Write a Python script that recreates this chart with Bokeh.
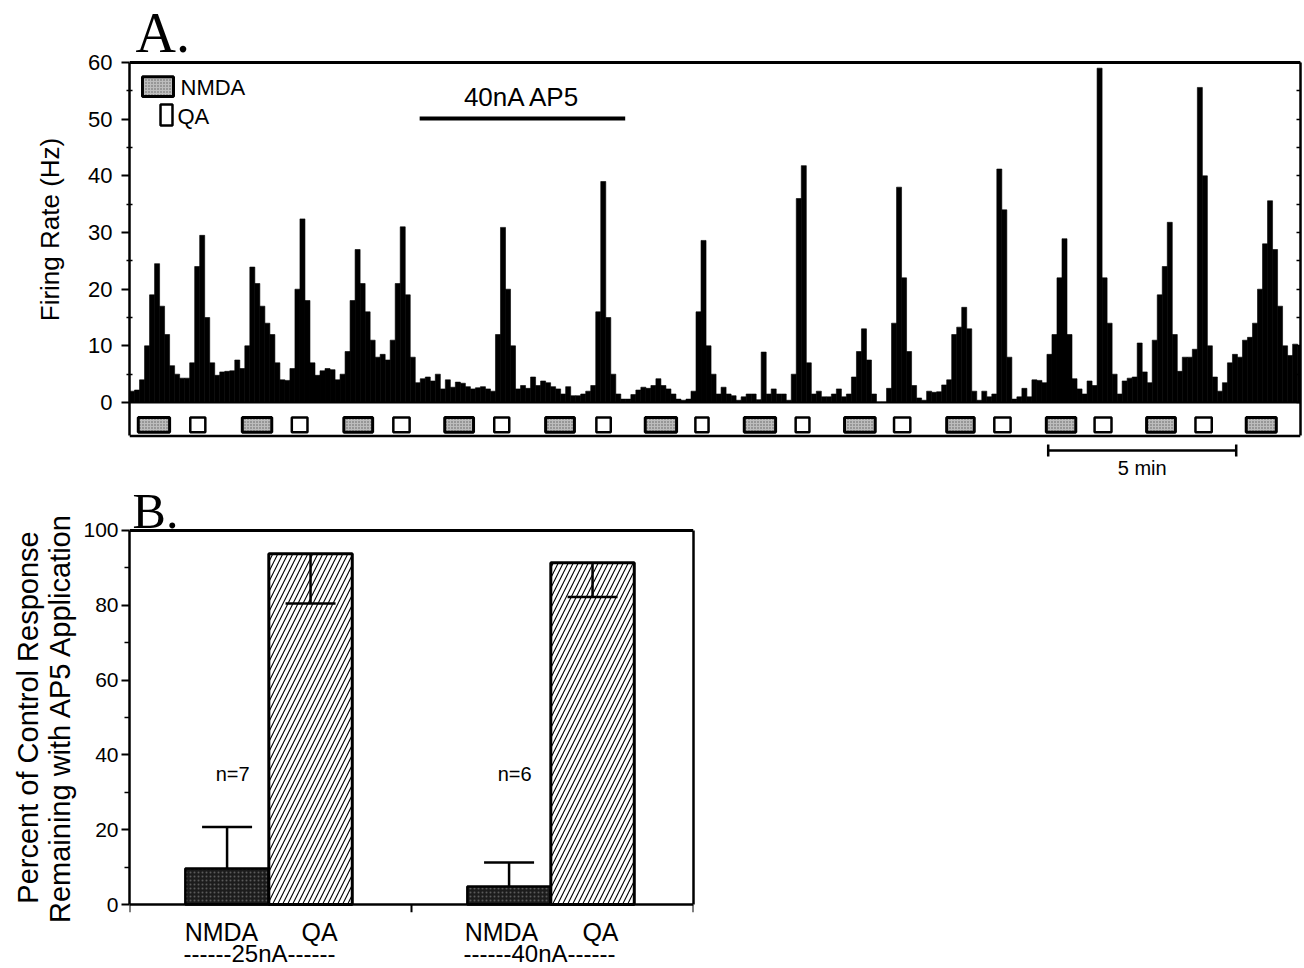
import numpy as np
from bokeh.plotting import figure
from bokeh.models import (Range1d, LinearAxis, FixedTicker, Span, ColumnDataSource,
                          Whisker, TeeHead)
from bokeh.layouts import column
from bokeh.embed import file_html
from bokeh.resources import INLINE
from bokeh.core.properties import value

# ---------------- Panel A data ----------------
BIN_S = 8  # histogram bin width (s)
firing_rate_hz = [
    2.0, 2.2, 4.0, 10, 19, 24.5, 17, 12, 6.5, 5, 4.3, 4.3, 7, 24, 29.5, 15, 7, 4.8, 5.4, 5.5,
    5.6, 7.5, 6, 10, 23.9, 21, 17, 14, 12, 7, 4, 3.9, 6, 20, 32.4, 18, 7, 4.8, 5.6,
    6, 5.8, 4, 5, 9, 18, 27, 21, 16, 11, 8, 8.5, 7.5, 11, 21, 31, 19, 8, 3.5, 4.2,
    4.5, 3.8, 5, 2.4, 4, 2.7, 3.6, 3.4, 2.8, 2.4, 2.6, 2.8, 2.4, 2.0, 12, 30.9, 20, 10,
    2.4, 3, 2.5, 4.5, 3, 3.8, 3.5, 2.8, 2.4, 1.5, 2.8, 1.2, 1.2, 1.5, 2, 3, 16, 39, 15, 5,
    1.5, 0.6, 0.6, 1.4, 2.2, 2.7, 2.5, 3, 4.2, 3, 2.4, 1.5, 0.6, 0.4, 0.6, 2, 16, 28.6, 10,
    5, 1.5, 2.7, 1.5, 1.2, 0.4, 1, 1.5, 1.5, 0.5, 8.9, 1.5, 2.4, 1.5, 1.5, 0.4, 5, 36, 41.8, 7,
    1.5, 2, 1, 1, 1.5, 2.4, 1, 1.5, 4.5, 9, 13, 7.5, 1.5, 0.1, 0.1, 2.5, 14, 38, 22,
    9, 3, 0.8, 0.4, 2, 1.8, 1.9, 3.1, 4, 12, 13.3, 16.8, 13, 2, 0.4, 2, 1, 1.5, 41.2, 34,
    8, 0.6, 1, 2.5, 1, 4, 3.9, 3.5, 8.5, 12, 22, 28.9, 12, 4.2, 2.4, 1.5, 3.8, 3, 59,
    22, 14, 5, 1.5, 3.8, 4.3, 4.5, 10.5, 5.4, 3.5, 11, 19, 24, 31.8, 12, 5.5, 8, 8, 9.4, 55.6,
    40, 10, 4.5, 2, 3.5, 7, 8.5, 8, 11, 11.5, 14, 20, 28, 35.6, 27, 17, 10, 8.3, 10.3, 10,
]
nmda_start_s = [14, 180, 342, 503, 664, 823, 981, 1141, 1304, 1463, 1623, 1782]
nmda_end_s = [64, 227, 388, 549, 710, 873, 1031, 1190, 1348, 1510, 1669, 1830]
qa_start_s = [97, 259, 421, 582, 745, 903, 1063, 1220, 1380, 1540, 1701]
qa_end_s = [121, 284, 447, 606, 768, 924, 1085, 1246, 1406, 1567, 1727]
ap5_start_s, ap5_end_s = 463, 791
ap5_label = "40nA AP5"
scale_start_s, scale_len_s = 1466, 300
scale_label = "5 min"
ya_ticks = [0, 10, 20, 30, 40, 50, 60]
ya_minor = [5, 15, 25, 35, 45, 55]

# ---------------- Panel B data ----------------
groups = ["------25nA------", "------40nA------"]
bar_names = ["NMDA", "QA"]
nmda_pct = [9.6, 4.8]
nmda_err = [11.1, 6.4]
qa_pct = [93.8, 91.4]
qa_err = [13.3, 9.2]
n_labels = ["n=7", "n=6"]
yb_ticks = [0, 20, 40, 60, 80, 100]
yb_minor = [10, 30, 50, 70, 90]

SANS = "Liberation Sans"
SERIF = "Liberation Serif"
INK = "black"

# =============== Panel A ===============
T_END = 1868.6
pA = figure(frame_width=1171, frame_height=458, x_range=Range1d(0, T_END),
            y_range=Range1d(-9.88, 70.94), x_axis_type=None, y_axis_type=None,
            min_border_left=126, min_border_right=7, min_border_top=0, min_border_bottom=24,
            output_backend="svg", toolbar_location=None)
pA.outline_line_color = None
pA.background_fill_color = "white"
pA.border_fill_color = "white"

FRAME_BOTTOM = -5.9
ya = LinearAxis(bounds=(FRAME_BOTTOM, 60),
                ticker=FixedTicker(ticks=ya_ticks, minor_ticks=ya_minor),
                axis_label="Firing Rate (Hz)")
ya.axis_line_width = 2.5
ya.axis_line_color = INK
ya.major_tick_out = 8
ya.major_tick_in = 0
ya.major_tick_line_width = 2
ya.major_tick_line_color = INK
ya.minor_tick_out = 3
ya.minor_tick_in = 3
ya.minor_tick_line_width = 1.5
ya.minor_tick_line_color = INK
ya.major_label_text_font = SANS
ya.major_label_text_font_size = "22px"
ya.major_label_text_color = INK
ya.major_label_standoff = 9
ya.axis_label_text_font = SANS
ya.axis_label_text_font_size = "26px"
ya.axis_label_text_font_style = "normal"
ya.axis_label_text_color = INK
ya.axis_label_standoff = 20
pA.add_layout(ya, "left")

yr = LinearAxis(bounds=(FRAME_BOTTOM, 60), ticker=FixedTicker(ticks=list(range(0, 61, 5))))
yr.axis_line_width = 2.5
yr.axis_line_color = INK
yr.major_tick_in = 4
yr.major_tick_out = 0
yr.major_tick_line_width = 1.5
yr.major_tick_line_color = INK
yr.major_label_text_color = None
yr.major_label_text_font_size = "1px"
yr.major_label_standoff = 0
pA.add_layout(yr, "right")

scale_mid = scale_start_s + scale_len_s / 2
xb = LinearAxis(ticker=FixedTicker(ticks=[scale_mid]),
                major_label_overrides={scale_mid: scale_label})
xb.axis_line_color = None
xb.major_tick_line_color = None
xb.minor_tick_line_color = None
xb.major_tick_out = 0
xb.major_tick_in = 0
xb.minor_tick_out = 0
xb.major_label_text_font = SANS
xb.major_label_text_font_size = "20px"
xb.major_label_text_color = INK
xb.major_label_standoff = -2
pA.add_layout(xb, "below")

# frame lines
pA.add_layout(Span(location=60, dimension="width", line_color=INK, line_width=3))
pA.add_layout(Span(location=FRAME_BOTTOM, dimension="width", line_color=INK, line_width=2.5))
pA.add_layout(Span(location=0, dimension="width", line_color=INK, line_width=2))

# histogram
centers = np.arange(len(firing_rate_hz)) * BIN_S + BIN_S / 2
pA.vbar(x=centers, top=firing_rate_hz, bottom=0, width=BIN_S,
        fill_color=INK, line_color=INK, line_width=0.6)

# stimulus boxes
STIM_TOP, STIM_BOT = -2.65, -5.25
pA.quad(left=nmda_start_s, right=nmda_end_s, bottom=STIM_BOT, top=STIM_TOP,
        fill_color="#bdbdbd", hatch_pattern=".", hatch_color="#5e5e5e", hatch_scale=3,
        line_color=INK, line_width=3)
pA.quad(left=qa_start_s, right=qa_end_s, bottom=STIM_BOT, top=STIM_TOP,
        fill_color="white", line_color=INK, line_width=2.5)

# legend (drawn)
pA.quad(left=[20.7], right=[70.2], bottom=[54.0], top=[57.5],
        fill_color="#bdbdbd", hatch_pattern=".", hatch_color="#5e5e5e", hatch_scale=3,
        line_color=INK, line_width=3)
pA.quad(left=[49.5], right=[68.6], bottom=[48.9], top=[52.6],
        fill_color="white", line_color=INK, line_width=2.5)
pA.text(x=[81.4, 76.6], y=[55.5, 50.5], text=["NMDA", "QA"],
        text_font=value(SANS), text_font_size="22px", text_align="left",
        text_baseline="middle", text_color=INK)

# AP5 application bar
pA.line(x=[ap5_start_s, ap5_end_s], y=[50.1, 50.1], line_color=INK, line_width=4)
pA.text(x=[(ap5_start_s + ap5_end_s) / 2], y=[53.9], text=[ap5_label],
        text_font=value(SANS), text_font_size="26px", text_align="center",
        text_baseline="middle", text_color=INK)

# scale bar
sb = ColumnDataSource(dict(base=[-8.47], lower=[scale_start_s], upper=[scale_start_s + scale_len_s]))
pA.add_layout(Whisker(source=sb, base="base", lower="lower", upper="upper", dimension="width",
                      line_color=INK, line_width=2.5, level="annotation",
                      lower_head=TeeHead(size=12, line_width=2.5),
                      upper_head=TeeHead(size=12, line_width=2.5)))

# panel letter
pA.text(x=[9.6], y=[65.28], text=["A."], text_font=value(SERIF), text_font_size="56px",
        text_align="left", text_baseline="middle", text_color=INK)

# =============== Panel B ===============
B_TOP, B_BOT = 112.83, -12.83
pB = figure(frame_width=564, frame_height=470, x_range=Range1d(0, 2), y_range=Range1d(B_BOT, B_TOP),
            x_axis_type=None, y_axis_type=None,
            min_border_left=129, min_border_top=0, min_border_right=10, min_border_bottom=0,
            output_backend="svg", toolbar_location=None)
pB.outline_line_color = None
pB.background_fill_color = "white"
pB.border_fill_color = "white"

yb = LinearAxis(bounds=(0, 100), ticker=FixedTicker(ticks=yb_ticks, minor_ticks=yb_minor),
                axis_label="Percent of Control Response\nRemaining with AP5 Application")
yb.axis_line_width = 2.5
yb.axis_line_color = INK
yb.major_tick_out = 8
yb.major_tick_in = 0
yb.major_tick_line_width = 2
yb.major_tick_line_color = INK
yb.minor_tick_out = 5
yb.minor_tick_in = 0
yb.minor_tick_line_width = 1.5
yb.minor_tick_line_color = INK
yb.major_label_text_font = SANS
yb.major_label_text_font_size = "21px"
yb.major_label_text_color = INK
yb.major_label_standoff = 3
yb.axis_label_text_font = SANS
yb.axis_label_text_font_size = "29px"
yb.axis_label_text_font_style = "normal"
yb.axis_label_text_color = INK
yb.axis_label_text_line_height = 1.0
yb.axis_label_standoff = 4
pB.add_layout(yb, "left")

ybr = LinearAxis(bounds=(0, 100), ticker=FixedTicker(ticks=[]))
ybr.axis_line_width = 2.5
ybr.axis_line_color = INK
ybr.major_tick_out = 0
ybr.major_tick_in = 0
ybr.minor_tick_out = 0
ybr.major_label_text_color = None
ybr.major_label_text_font_size = "1px"
ybr.major_label_standoff = 0
pB.add_layout(ybr, "right")

# frame top and baseline
pB.add_layout(Span(location=100, dimension="width", line_color=INK, line_width=3))
pB.add_layout(Span(location=0, dimension="width", line_color=INK, line_width=2.5))

# bottom ticks at the group boundaries
group_edges = [0, 1, 2]
pB.segment(x0=group_edges, x1=group_edges, y0=0, y1=-2.1, line_color=INK, line_width=2)

NMDA_OFF, QA_OFF, BAR_W = 0.346, 0.642, 0.296
g_idx = np.arange(len(groups))
x_nmda = g_idx + NMDA_OFF
x_qa = g_idx + QA_OFF

pB.vbar(x=x_nmda, top=nmda_pct, width=BAR_W, fill_color="#1c1c1c",
        hatch_pattern=".", hatch_color="#5a5a5a", hatch_scale=4,
        line_color=INK, line_width=2.5)
pB.vbar(x=x_qa, top=qa_pct, width=BAR_W, fill_color="white",
        hatch_pattern="/", hatch_color=INK, hatch_scale=10, hatch_weight=1.1,
        line_color=INK, line_width=3)

src_n = ColumnDataSource(dict(x=x_nmda, lo=nmda_pct, hi=np.array(nmda_pct) + np.array(nmda_err)))
pB.add_layout(Whisker(source=src_n, base="x", lower="lo", upper="hi", line_width=2.5,
                      line_color=INK, level="annotation",
                      lower_head=None, upper_head=TeeHead(size=50, line_width=2.5)))
src_q = ColumnDataSource(dict(x=x_qa, lo=np.array(qa_pct) - np.array(qa_err), hi=qa_pct))
pB.add_layout(Whisker(source=src_q, base="x", lower="lo", upper="hi", line_width=2.5,
                      line_color=INK, level="annotation",
                      upper_head=None, lower_head=TeeHead(size=50, line_width=2.5)))

pB.text(x=x_nmda + 0.02, y=[35.0, 35.0], text=n_labels, text_font=value(SANS),
        text_font_size="20px", text_align="center", text_baseline="middle", text_color=INK)

# bar-name labels under each bar
lab_pos = [0.326, 0.674, 1.319, 1.670]
pB.text(x=lab_pos, y=[-7.3] * 4, text=[bar_names[i % 2] for i in range(4)],
        text_font=value(SANS), text_font_size="25px", text_align="center",
        text_baseline="middle", text_color=INK)

# group labels
grp_pos = [0.461, 1.454]
xb2 = LinearAxis(ticker=FixedTicker(ticks=grp_pos),
                 major_label_overrides={p: groups[i] for i, p in enumerate(grp_pos)})
xb2.axis_line_color = None
xb2.major_tick_line_color = None
xb2.minor_tick_line_color = None
xb2.major_tick_out = 0
xb2.major_tick_in = 0
xb2.minor_tick_out = 0
xb2.major_label_text_font = SANS
xb2.major_label_text_font_size = "24px"
xb2.major_label_text_color = INK
xb2.major_label_standoff = -13
pB.add_layout(xb2, "below")

# panel letter
pB.text(x=[0.011], y=[105.2], text=["B."], text_font=value(SERIF), text_font_size="50px",
        text_align="left", text_baseline="middle", text_color=INK)

layout = column(pA, pB, spacing=0)
open("out.html", "w").write(file_html(layout, INLINE))
